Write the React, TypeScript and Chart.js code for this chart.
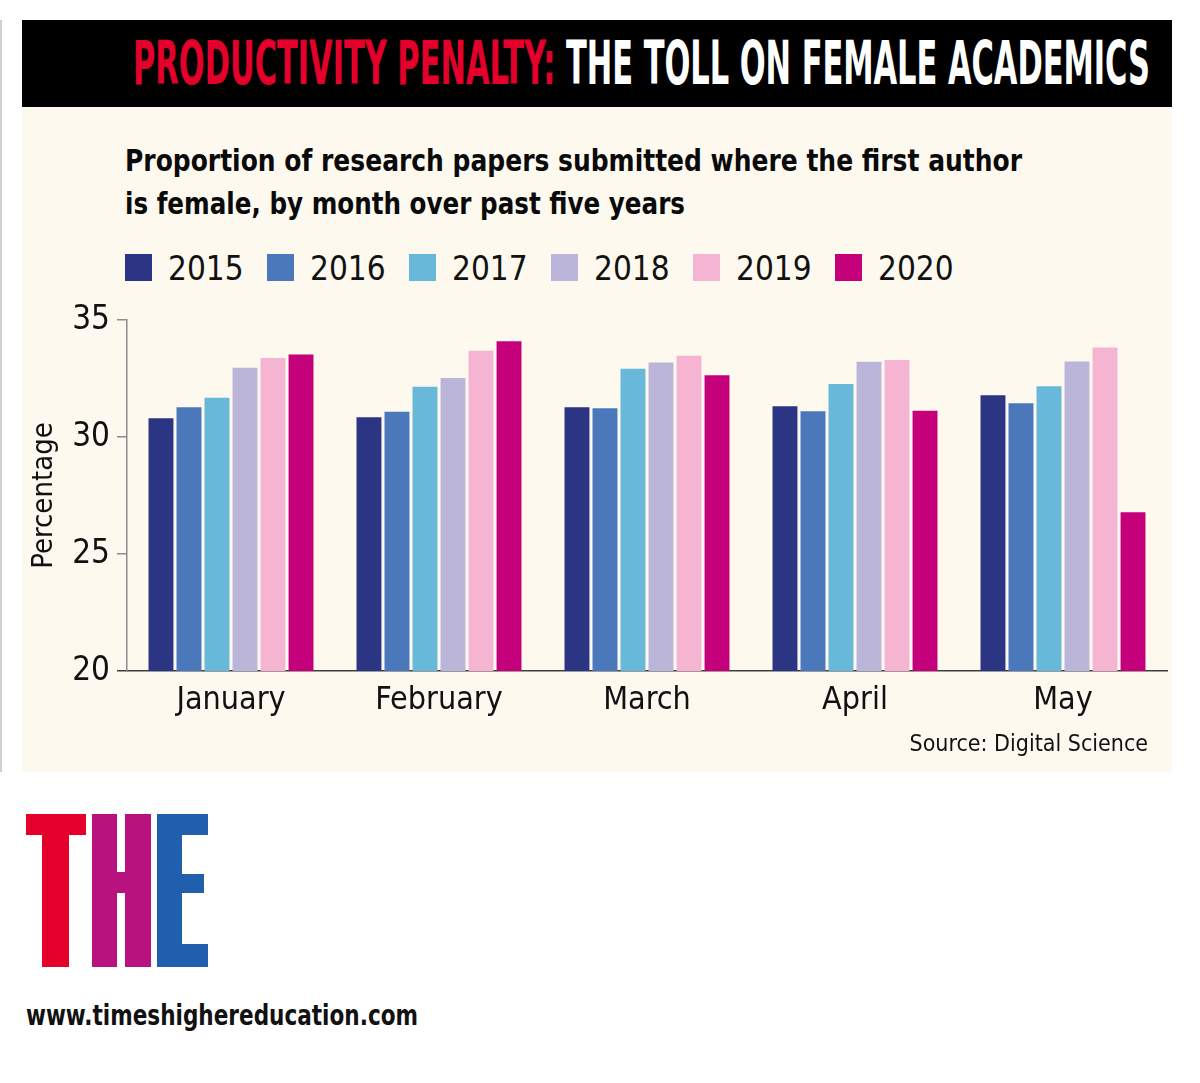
import React, { useEffect, useLayoutEffect, useRef } from "react";
import { Chart, registerables } from "chart.js";

Chart.register(...registerables);

// data (percent of papers with a female first author)
const months = ["January", "February", "March", "April", "May"];
const years = ["2015", "2016", "2017", "2018", "2019", "2020"];
const share2015 = [30.8, 30.84, 31.27, 31.31, 31.78];
const share2016 = [31.27, 31.08, 31.23, 31.1, 31.44];
const share2017 = [31.68, 32.15, 32.92, 32.26, 32.17];
const share2018 = [32.96, 32.52, 33.18, 33.22, 33.23];
const share2019 = [33.38, 33.69, 33.47, 33.29, 33.82];
const share2020 = [33.53, 34.09, 32.64, 31.12, 26.78];
const yTicks = [20, 25, 30, 35];

const yearColours = ["#2b3584", "#4a78bb", "#67b8d9", "#bcb5da", "#f5b4d2", "#c4007a"];
const NARROW = "'Liberation Sans Narrow', 'DejaVu Sans Condensed', sans-serif";

// squeezes a line of text horizontally so it fills the given width
const FitText = (props: { width: number; style: React.CSSProperties; children: React.ReactNode }) => {
  const ref = useRef<HTMLSpanElement>(null);
  useLayoutEffect(() => {
    const el = ref.current;
    if (!el) return;
    el.style.transform = "none";
    const w = el.getBoundingClientRect().width;
    if (w > 0) el.style.transform = `scaleX(${props.width / w})`;
  });
  return (
    <span
      ref={ref}
      style={{ position: "absolute", display: "inline-block", whiteSpace: "nowrap", transformOrigin: "left top", ...props.style }}
    >
      {props.children}
    </span>
  );
};

const BarChart = () => {
  const canvasRef = useRef<HTMLCanvasElement>(null);

  useEffect(() => {
    const ctx = canvasRef.current!.getContext("2d")!;
    const series = [share2015, share2016, share2017, share2018, share2019, share2020];

    const chart = new Chart(ctx, {
      type: "bar",
      data: {
        labels: months,
        datasets: years.map((y, i) => ({
          label: y,
          data: series[i],
          backgroundColor: yearColours[i],
          borderWidth: 0,
          barPercentage: 0.89,
          categoryPercentage: 0.808,
        })),
      },
      options: {
        animation: false,
        responsive: false,
        maintainAspectRatio: false,
        layout: { padding: { top: 30, right: 33, bottom: 0, left: 0 } },
        plugins: { legend: { display: false }, tooltip: { enabled: false } },
        scales: {
          x: {
            grid: { display: false },
            border: { display: true, color: "#3c3c3c", width: 1.5 },
            ticks: { color: "#111", font: { family: NARROW, size: 32 }, padding: 2 },
            afterFit: (s: any) => {
              s.height = 101;
            },
          },
          y: {
            min: 20,
            max: 35,
            afterBuildTicks: (s: any) => {
              s.ticks = yTicks.map((v) => ({ value: v }));
            },
            ticks: { color: "#111", font: { family: NARROW, size: 33 }, padding: 7 },
            grid: {
              drawOnChartArea: false,
              drawTicks: true,
              tickLength: 10,
              lineWidth: 1.5,
              color: (c: any) => (c.tick && c.tick.value === 20 ? "#3c3c3c" : "#8c8c8c"),
            },
            border: { display: true, color: "#8c8c8c", width: 1.5 },
            title: {
              display: true,
              text: "Percentage",
              color: "#111",
              font: { family: NARROW, size: 29 },
              padding: { top: 27, bottom: 0 },
            },
            afterFit: (s: any) => {
              s.width = 127;
            },
          },
        },
      },
    } as any);

    return () => {
      chart.destroy();
    };
  }, []);

  return (
    <canvas
      ref={canvasRef}
      width={1200}
      height={482}
      style={{ position: "absolute", left: 0, top: 290, width: 1200, height: 482 }}
    />
  );
};

const App = () => {
  return (
    <div style={{ position: "absolute", left: 0, top: 0, width: 1200, height: 1083, background: "#fff", overflow: "hidden" }}>
      <div style={{ position: "absolute", left: 0, top: 20, width: 2, height: 752, background: "#d0d0d0" }} />

      {/* header */}
      <div style={{ position: "absolute", left: 22, top: 20, width: 1150, height: 87, background: "#000" }} />
      <FitText
        width={1017}
        style={{ left: 133, top: 33, fontFamily: NARROW, fontWeight: 700, fontSize: 60, lineHeight: "60px", color: "#fff" }}
      >
        <span style={{ color: "#e3002a" }}>PRODUCTIVITY PENALTY: </span>THE TOLL ON FEMALE ACADEMICS
      </FitText>

      {/* cream panel */}
      <div style={{ position: "absolute", left: 22, top: 107, width: 1150, height: 665, background: "#fdf9ef" }} />
      <FitText
        width={897}
        style={{ left: 125, top: 145, fontFamily: NARROW, fontWeight: 700, fontSize: 31, lineHeight: "31px", color: "#0a0a0a" }}
      >
        Proportion of research papers submitted where the first author
      </FitText>
      <FitText
        width={560}
        style={{ left: 125, top: 188, fontFamily: NARROW, fontWeight: 700, fontSize: 31, lineHeight: "31px", color: "#0a0a0a" }}
      >
        is female, by month over past five years
      </FitText>

      {/* legend */}
      {years.map((y, i) => (
        <div key={y} style={{ position: "absolute", left: 125 + i * 142, top: 254 }}>
          <div style={{ position: "absolute", left: 0, top: 0, width: 27, height: 27, background: yearColours[i] }} />
          <span
            style={{
              position: "absolute",
              left: 43,
              top: -2,
              fontFamily: NARROW,
              fontSize: 33,
              lineHeight: "33px",
              color: "#111",
              whiteSpace: "nowrap",
            }}
          >
            {y}
          </span>
        </div>
      ))}

      <BarChart />

      <div
        style={{
          position: "absolute",
          right: 52,
          top: 732,
          fontFamily: NARROW,
          fontSize: 23,
          lineHeight: "23px",
          color: "#111",
          whiteSpace: "nowrap",
        }}
      >
        Source: Digital Science
      </div>

      {/* THE logo */}
      <div style={{ position: "absolute", left: 26, top: 814, width: 60, height: 21, background: "#e4002b" }} />
      <div style={{ position: "absolute", left: 42, top: 814, width: 27, height: 153, background: "#e4002b" }} />
      <div style={{ position: "absolute", left: 92, top: 814, width: 25, height: 153, background: "#b8127f" }} />
      <div style={{ position: "absolute", left: 125, top: 814, width: 26, height: 153, background: "#b8127f" }} />
      <div style={{ position: "absolute", left: 116, top: 872, width: 10, height: 21, background: "#b8127f" }} />
      <div style={{ position: "absolute", left: 157, top: 814, width: 25, height: 153, background: "#1f5fae" }} />
      <div style={{ position: "absolute", left: 181, top: 814, width: 27, height: 21, background: "#1f5fae" }} />
      <div style={{ position: "absolute", left: 181, top: 874, width: 23, height: 19, background: "#1f5fae" }} />
      <div style={{ position: "absolute", left: 181, top: 944, width: 27, height: 23, background: "#1f5fae" }} />

      <FitText
        width={392}
        style={{ left: 26, top: 1001, fontFamily: NARROW, fontWeight: 700, fontSize: 29, lineHeight: "29px", color: "#111" }}
      >
        www.timeshighereducation.com
      </FitText>
    </div>
  );
};

export default App;
